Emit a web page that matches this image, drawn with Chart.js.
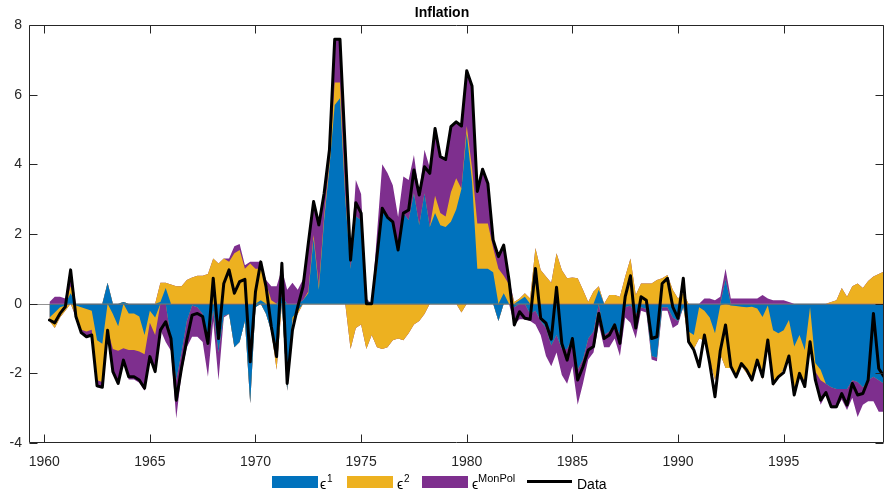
<!DOCTYPE html>
<html>
<head>
<meta charset="utf-8">
<script src="https://cdn.jsdelivr.net/npm/chart.js@4.4.1/dist/chart.umd.min.js"></script>
<style>
html,body{margin:0;padding:0;background:#fff;}
#wrap{position:relative;width:885px;height:493px;overflow:hidden;}
#c{position:absolute;left:0;top:0;}
.t{position:absolute;font-family:"Liberation Sans",Arial,sans-serif;color:#000;line-height:1;white-space:nowrap;}
.eps{font-size:14px;}
.sup{font-size:10px;}
.sup2{font-size:11px;}
.box{position:absolute;width:46px;height:12px;}
</style>
</head>
<body>
<div id="wrap">
<canvas id="c" width="885" height="493"></canvas>
<div class="box" style="left:272px;top:476px;background:#0072BD"></div>
<div class="t eps" style="left:320px;top:477px">ϵ</div><div class="t sup" style="left:327px;top:474px">1</div>
<div class="box" style="left:347px;top:476px;background:#EDB120"></div>
<div class="t eps" style="left:397px;top:477px">ϵ</div><div class="t sup" style="left:404px;top:474px">2</div>
<div class="box" style="left:422px;top:476px;background:#7E2F8E"></div>
<div class="t eps" style="left:472px;top:477px">ϵ</div><div class="t sup2" style="left:478px;top:473px">MonPol</div>
<div style="position:absolute;left:527px;top:480px;width:45px;height:3px;background:#000"></div>
<div class="t eps" style="left:577px;top:477px">Data</div>
</div>
<script>
// quarterly observations, first = 1960Q2 (1960.25), last = 1999Q4 (1999.75)
const firstQuarter = 1960.25;
const quarterStep = 0.25;

const inflationData = [
  -0.47,-0.55,-0.28,                 // 1960
  -0.09,0.97,-0.37,-0.83,            // 1961
  -0.95,-0.9,-2.36,-2.4,             // 1962
  -0.76,-1.95,-2.29,-1.62,           // 1963
  -2.1,-2.1,-2.19,-2.43,             // 1964
  -1.52,-1.95,-0.76,-0.52,           // 1965
  -1.0,-2.77,-1.85,-1.04,            // 1966
  -0.33,-0.28,-0.37,-1.14,           // 1967
  0.73,-1.0,0.58,0.97,               // 1968
  0.3,0.63,0.7,-1.67,                // 1969
  0.34,1.2,0.49,-0.66,               // 1970
  -1.52,1.16,-2.29,-0.76,            // 1971
  -0.09,0.49,1.73,2.93,              // 1972
  2.26,3.17,4.41,7.59,               // 1973
  7.59,4.4,1.25,2.9,                 // 1974
  2.6,0.0,0.0,1.35,                  // 1975
  2.74,2.48,2.35,1.54,               // 1976
  2.6,2.69,3.84,3.12,                // 1977
  3.93,3.74,5.03,4.22,               // 1978
  4.14,5.08,5.22,5.1,                // 1979
  6.69,6.25,3.22,3.86,               // 1980
  3.45,1.83,1.35,1.68,               // 1981
  0.68,-0.61,-0.23,-0.42,            // 1982
  -0.45,1.01,-0.42,-0.56,            // 1983
  -1.02,0.47,-1.14,-1.62,            // 1984
  -1.0,-2.19,-1.81,-1.33,            // 1985
  -1.23,-0.28,-1.0,-0.9,             // 1986
  -0.61,-1.14,0.2,0.8,               // 1987
  -0.7,0.2,0.1,-1.0,                 // 1988
  -0.95,0.58,0.73,-0.09,             // 1989
  -0.42,0.73,-1.09,-1.33,            // 1990
  -1.81,-0.9,-1.71,-2.67,            // 1991
  -1.35,-0.61,-1.8,-2.1,             // 1992
  -1.72,-1.9,-2.19,-1.62,            // 1993
  -2.1,-1.04,-2.3,-2.1,              // 1994
  -1.98,-1.5,-2.62,-2.0,             // 1995
  -2.38,-1.09,-2.19,-2.77,           // 1996
  -2.55,-2.96,-2.96,-2.58,           // 1997
  -2.91,-2.29,-2.62,-2.58,           // 1998
  -2.19,-0.28,-1.86,-2.1             // 1999
];

const shockEps1 = [
  -0.4,-0.25,-0.1,
  -0.05,0.3,-0.05,-0.1,
  -0.15,-0.2,-1.05,-1.15,
  0.6,-0.3,-0.65,0.05,
  -0.28,-0.28,-0.37,-0.9,
  -0.2,-0.4,0.05,0.45,
  -1.0,-2.2,-1.4,-0.5,
  -0.05,-0.1,-0.3,-1.23,
  -0.2,-1.4,-0.35,-0.3,
  -1.25,-1.1,-0.5,-2.86,
  -0.1,0.1,-0.3,-0.8,
  -1.2,0.2,-2.5,-0.4,
  -0.2,0.1,0.3,1.87,
  0.4,2.4,3.9,5.7,
  5.9,3.0,1.0,2.5,
  2.4,0.1,0.0,1.0,
  2.75,2.45,2.35,1.54,
  2.6,2.4,3.17,2.26,
  3.17,2.2,2.6,2.25,
  2.2,2.35,2.7,3.3,
  4.9,3.5,1.0,1.0,
  1.0,0.9,-0.5,0.3,
  0.0,-0.1,0.1,0.2,
  -0.3,-0.2,-0.5,-0.7,
  -1.2,-0.9,-1.3,-1.3,
  -1.0,-1.9,-1.6,-1.0,
  -0.8,0.4,-0.9,-0.8,
  -0.55,-0.9,-0.1,-0.05,
  -0.3,-0.1,-0.15,-1.5,
  -1.55,-0.1,-0.1,-0.4,
  -0.5,-0.1,-0.8,-0.9,
  -0.1,-0.2,-0.4,-0.85,
  -0.05,0.7,-0.05,-0.07,
  -0.09,-0.1,-0.09,-0.14,
  -0.38,-0.05,-0.76,-0.85,
  -0.76,-0.47,-1.23,-0.9,
  -1.33,-0.1,-1.7,-1.9,
  -2.3,-2.4,-2.45,-2.45,
  -2.45,-2.2,-2.25,-2.4,
  -2.2,-2.1,-2.2,-2.3
];

const shockEps2 = [
  -0.1,-0.45,-0.3,
  -0.15,0.2,-0.3,-0.65,
  -0.65,-0.55,-1.15,-1.1,
  -0.75,-1.0,-0.7,-1.28,
  -1.05,-1.05,-1.0,-0.55,
  -0.35,-0.5,0.55,0.15,
  0.55,0.5,0.5,0.68,
  0.75,0.8,0.8,0.85,
  1.3,1.15,1.3,1.2,
  1.45,1.54,1.0,1.15,
  1.0,0.9,0.58,0.1,
  -0.7,0.0,0.0,-0.1,
  -0.1,0.0,0.05,0.1,
  0.1,0.1,0.15,0.65,
  0.45,0.1,-1.3,-0.7,
  -0.6,-1.3,-0.9,-1.25,
  -1.3,-1.25,-1.05,-1.0,
  -1.05,-0.85,-0.6,-0.5,
  -0.3,0.0,0.5,0.35,
  0.3,0.85,0.9,-0.25,
  0.2,0.4,1.3,1.3,
  1.3,0.7,1.0,0.5,
  0.55,0.05,0.05,0.1,
  0.15,1.6,0.97,0.78,
  0.6,1.45,0.97,0.73,
  0.75,0.73,0.4,0.05,
  0.35,0.1,0.0,0.25,
  0.25,0.2,0.78,1.3,
  0.25,0.58,0.58,0.58,
  0.68,0.73,0.82,0.4,
  0.15,0.3,-0.3,-0.4,
  -0.9,-0.85,-1.2,-1.35,
  -1.4,-1.85,-1.8,-2.0,
  -1.7,-1.9,-2.15,-1.55,
  -1.8,-1.05,-1.6,-1.3,
  -1.1,-1.05,-1.25,-1.1,
  -0.9,-0.95,-0.25,-0.3,
  0.0,0.05,0.1,0.45,
  0.2,0.5,0.58,0.45,
  0.65,0.78,0.85,0.92
];

const shockMonPol = [
  0.05,0.2,0.2,
  0.15,0.5,-0.05,-0.1,
  -0.15,-0.15,-0.2,-0.15,
  -0.05,-0.6,-0.95,-0.4,
  -0.85,-0.85,-0.9,-1.05,
  -1.1,-0.9,-0.75,-1.1,
  -0.35,-1.1,-0.6,-0.75,
  -0.9,-0.85,-0.8,-0.87,
  -0.3,-0.8,-0.05,0.1,
  0.2,0.17,0.1,0.05,
  0.2,0.2,0.1,0.4,
  0.5,0.8,0.4,0.6,
  0.4,0.6,1.35,0.95,
  1.7,0.7,0.4,1.25,
  1.25,1.3,0.25,1.05,
  0.75,0.05,0.0,1.0,
  1.25,1.3,1.05,0.95,
  1.05,1.15,1.1,0.9,
  1.25,1.7,1.9,1.6,
  1.65,1.9,1.6,1.8,
  1.6,2.35,0.9,1.55,
  1.15,0.25,0.35,0.85,
  0.15,-0.5,-0.45,-0.45,
  -0.2,-0.4,-0.4,-0.8,
  -0.6,-0.5,-0.75,-1.0,
  -0.8,-1.0,-0.7,-0.6,
  -0.6,-0.6,-0.35,-0.45,
  -0.45,-0.6,-0.3,-0.5,
  -0.7,-0.1,-0.1,-0.1,
  -0.1,-0.1,-0.1,-0.3,
  -0.1,0.0,0.0,0.0,
  0.0,0.15,0.15,0.1,
  0.2,0.3,0.15,0.15,
  0.15,0.15,0.15,0.15,
  0.25,0.15,0.1,0.1,
  0.1,0.05,-0.15,-0.1,
  -0.15,-0.1,-0.25,-0.7,
  -0.3,-0.6,-0.55,-0.3,
  -0.6,-0.5,-1.0,-0.5,
  -0.6,-0.7,-0.9,-0.8
];

const xTickValues = [1960, 1965, 1970, 1975, 1980, 1985, 1990, 1995];
const yTickValues = [-4, -2, 0, 2, 4, 6, 8];
const chartTitle = 'Inflation';

const colEps1 = '#0072BD', colEps2 = '#EDB120', colMon = '#7E2F8E';
const fontFam = '"Liberation Sans", Arial, Helvetica, sans-serif';

const dates = inflationData.map((_, i) => firstQuarter + i * quarterStep);
const toXY = arr => arr.map((v, i) => ({x: dates[i], y: v}));
const posPart = arr => arr.map(v => Math.max(v, 0));
const negPart = arr => arr.map(v => Math.min(v, 0));

function areaSet(arr, color, stack) {
  return {
    data: toXY(arr), stack: stack, fill: 'origin',
    backgroundColor: color, borderColor: 'rgba(0,0,0,0)', borderWidth: 0,
    pointRadius: 0, tension: 0
  };
}

const axesPlugin = {
  id: 'matlabAxes',
  beforeDatasetDraw(chart, args) {
    if (args.index !== 0) return;
    const {ctx, chartArea: a, scales: {y}} = chart;
    const py = Math.round(y.getPixelForValue(0)) + 0.5;
    ctx.save();
    ctx.strokeStyle = 'rgba(110,110,110,0.75)';
    ctx.lineWidth = 1;
    ctx.beginPath();
    ctx.moveTo(a.left, py); ctx.lineTo(a.right, py);
    ctx.stroke();
    ctx.restore();
  },
  afterDatasetsDraw(chart) {
    const {ctx, chartArea: a, scales: {x, y}} = chart;
    ctx.save();
    ctx.strokeStyle = '#262626';
    ctx.lineWidth = 1;
    ctx.beginPath();
    const L = Math.round(a.left) + 0.5, R = Math.round(a.right) - 0.5;
    const T = Math.round(a.top) + 0.5, B = Math.round(a.bottom) - 0.5;
    ctx.moveTo(L, T); ctx.lineTo(R, T); ctx.lineTo(R, B); ctx.lineTo(L, B); ctx.closePath();
    xTickValues.forEach(v => {
      const px = Math.round(x.getPixelForValue(v)) + 0.5;
      ctx.moveTo(px, B); ctx.lineTo(px, B - 8);
      ctx.moveTo(px, T); ctx.lineTo(px, T + 8);
    });
    yTickValues.forEach(v => {
      const py = Math.round(y.getPixelForValue(v)) + 0.5;
      ctx.moveTo(L, py); ctx.lineTo(L + 8, py);
      ctx.moveTo(R, py); ctx.lineTo(R - 8, py);
    });
    ctx.stroke();
    ctx.restore();
  }
};

new Chart(document.getElementById('c'), {
  type: 'line',
  data: {
    datasets: [
      {label: 'Data', data: toXY(inflationData), stack: 'data', fill: false,
       borderColor: '#000', borderWidth: 3, pointRadius: 0, tension: 0,
       borderJoinStyle: 'round', borderCapStyle: 'round'},
      areaSet(posPart(shockEps1), colEps1, 'pos'),
      areaSet(posPart(shockEps2), colEps2, 'pos'),
      areaSet(posPart(shockMonPol), colMon, 'pos'),
      areaSet(negPart(shockEps1), colEps1, 'neg'),
      areaSet(negPart(shockEps2), colEps2, 'neg'),
      areaSet(negPart(shockMonPol), colMon, 'neg')
    ]
  },
  options: {
    responsive: false,
    animation: false,
    devicePixelRatio: 1,
    layout: {padding: {left: 0, right: 1, top: 0, bottom: 0}},
    plugins: {
      legend: {display: false},
      tooltip: {enabled: false},
      title: {
        display: true, text: chartTitle, color: '#000',
        font: {family: fontFam, size: 14, weight: 'bold'},
        padding: {top: 5, bottom: 3.2}
      }
    },
    scales: {
      x: {
        type: 'linear', min: 1959.28, max: 1999.75,
        grid: {display: false, drawTicks: false},
        border: {display: false},
        ticks: {color: '#262626', font: {family: fontFam, size: 14}, padding: 11,
                maxRotation: 0, callback: v => String(v)},
        afterBuildTicks: s => { s.ticks = xTickValues.map(v => ({value: v})); },
        afterFit: s => { s.height = 50; }
      },
      y: {
        stacked: true, min: -4, max: 8,
        grid: {display: false, drawTicks: false},
        border: {display: false},
        ticks: {color: '#262626', font: {family: fontFam, size: 14}, padding: 7},
        afterBuildTicks: s => { s.ticks = yTickValues.map(v => ({value: v})); },
        afterFit: s => { s.width = 29; }
      }
    }
  },
  plugins: [axesPlugin]
});
</script>
</body>
</html>
